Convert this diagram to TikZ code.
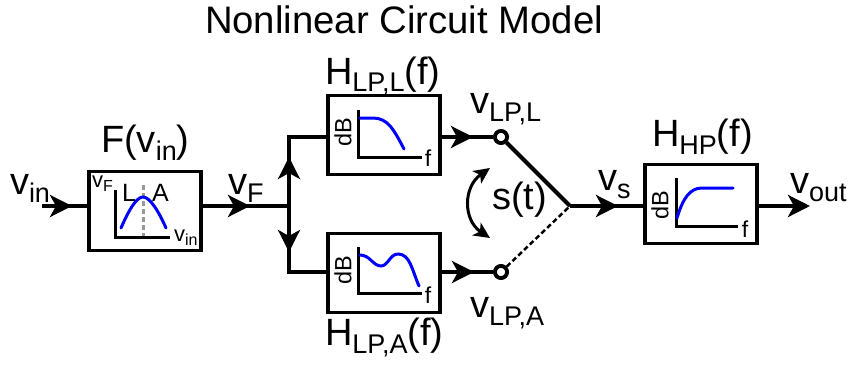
\documentclass[tikz,border=0pt]{standalone}
\usepackage{fontspec}
\setmainfont{Liberation Sans}
\usetikzlibrary{arrows.meta}
\newcommand{\bigsub}[2]{{\fontsize{38}{38}\selectfont #1\raisebox{-8pt}{\fontsize{27}{27}\selectfont #2}}}
\newcommand{\bigsubtail}[3]{{\fontsize{38}{38}\selectfont #1\raisebox{-8pt}{\fontsize{27}{27}\selectfont #2}#3}}
\newcommand{\smallsub}[2]{{\fontsize{22}{22}\selectfont #1\raisebox{-4pt}{\fontsize{16}{16}\selectfont #2}}}
\tikzset{
  x=1pt,y=-1pt,
  blockbox/.style={draw=black,line width=3.3pt,minimum width=112pt,minimum height=79pt,inner sep=0pt,line join=miter},
  wire/.style={draw=black,line width=4pt},
  headed/.style={wire,-{Stealth[length=22pt,width=22pt,inset=6pt]}},
  txt/.style={anchor=base west,inner sep=0pt,outer sep=0pt,text=black},
  axisline/.style={draw=black,line width=3pt},
  resp/.style={draw=blue,line width=3pt,line cap=round},
  terminal/.style={circle,draw=black,line width=3.7pt,fill=white,minimum size=12pt,inner sep=0pt},
  db/.style={rotate=90,inner sep=0pt,font=\fontsize{23.5}{23.5}\selectfont},
  ftxt/.style={inner sep=0pt,font=\fontsize{23}{23}\selectfont},
}
\begin{document}
\begin{tikzpicture}
\useasboundingbox (0,0) rectangle (848,369);
% blocks
\node[blockbox] (F) at (145,211) {};
\node[blockbox] (HL) at (384,135) {};
\node[blockbox] (HA) at (384,273) {};
\node[blockbox] (HP) at (701,204) {};
% connector points
\coordinate (in) at (42,206);
\coordinate (intip) at (72,206);
\coordinate (Ftip) at (250,206);
\coordinate (j) at (289,206);
\coordinate (uptip) at (289,157);
\coordinate (dntip) at (289,252);
\coordinate (sw) at (570,206);
\coordinate (stip) at (618,206);
\coordinate (outtip) at (810,206);
\coordinate (Ltip) at (473,137);
\coordinate (Atip) at (474,272);
\node[terminal] (tL) at (501,137) {};
\node[terminal] (tA) at (501,272) {};
% wires
\draw[wire] (in) -- (F.west |- in);
\draw[headed] (in) -- (intip);
\draw[wire] (F.east |- j) -- (j);
\draw[headed] (F.east |- j) -- (Ftip);
\draw[wire,line join=miter] (HL.west |- tL) -| (j) |- (HA.west |- tA);
\draw[headed] (j) -- (uptip);
\draw[headed] (j) -- (dntip);
\draw[wire] (HL.east |- tL) -- (tL);
\draw[headed] (HL.east |- tL) -- (Ltip);
\draw[wire] (HA.east |- tA) -- (tA);
\draw[headed] (HA.east |- tA) -- (Atip);
\draw[wire] (tL) -- (sw);
\draw[draw=black,line width=2.5pt,dash pattern=on 5pt off 3pt] (tA) -- (sw);
\draw[wire] (sw) -- (HP.west |- sw);
\draw[headed] (sw) -- (stip);
\draw[headed] (HP.east |- sw) -- (outtip);
\node[terminal] at (tL) {};
\node[terminal] at (tA) {};
% switching arc
\coordinate (arcA) at (490,168);
\coordinate (arcB) at (490,238);
\draw[draw=black,line width=3pt,{Stealth[length=16pt,width=15pt,inset=4pt]}-{Stealth[length=16pt,width=15pt,inset=4pt]}] (arcA) .. controls (463,187) and (463,220) .. (arcB);
% plot F
\draw[draw=gray!80,line width=3pt,dash pattern=on 5pt off 3pt] (143,185) -- (143,237);
\draw[axisline] (115,190) -- (115,237) -- (170,237);
\draw[resp] (121,228) .. controls (128,212) and (136,197) .. (143,197) .. controls (150,197) and (159,212) .. (166,228);
% plot LP,L
\draw[axisline] (358,110) -- (358,157) -- (422,157);
\draw[resp] (360,118) -- (373,118) .. controls (388,118) and (394,130) .. (404,149);
% plot LP,A
\draw[axisline] (358,247) -- (358,293) -- (422,293);
\draw[resp] (360,255) .. controls (370,255) and (373,266) .. (381,266) .. controls (388,266) and (390,254) .. (398,254) .. controls (410,254) and (412,270) .. (419,286);
% plot HP
\draw[axisline] (676,178) -- (676,226) -- (738,226);
\draw[resp] (677,218) .. controls (683,198) and (690,188) .. (702,188) -- (733,188);
% labels
\node[txt,font=\fontsize{38.3}{38.3}\selectfont] (title) at (205,34) {Nonlinear Circuit Model};
\node[txt] (lin) at (10,194) {\bigsub{v}{in}};
\node[txt] (lF) at (101,152) {\bigsubtail{F(v}{in}{)}};
\node[txt] (lvF) at (228,194) {\bigsub{v}{F}};
\node[txt] (lHL) at (325,84) {\bigsubtail{H}{LP,L}{(f)}};
\node[txt] (lHA) at (325,345) {\bigsubtail{H}{LP,A}{(f)}};
\node[txt] (lvL) at (470,113) {\bigsub{v}{LP,L}};
\node[txt] (lvA) at (470,317) {\bigsub{v}{LP,A}};
\node[txt,font=\fontsize{38}{38}\selectfont] (ls) at (492,209) {s(t)};
\node[txt] (lvs) at (598,190) {\bigsub{v}{s}};
\node[txt] (lHP) at (652,146) {\bigsubtail{H}{HP}{(f)}};
\node[txt] (lout) at (790,193) {\bigsub{v}{out}};
\node[txt] (pvF) at (92,187) {\smallsub{v}{F}};
\node[txt] (pvi) at (174,241) {\smallsub{v}{in}};
\node[txt,font=\fontsize{25}{25}\selectfont] (pL) at (122,201) {L};
\node[txt,font=\fontsize{25}{25}\selectfont] (pA) at (152,201) {A};
\node[db] (d1) at (343,132) {dB};
\node[db] (d2) at (343,270) {dB};
\node[db] (d3) at (660,205) {dB};
\node[ftxt] (f1) at (428,158) {f};
\node[ftxt] (f2) at (428,295) {f};
\node[ftxt] (f3) at (745,229) {f};
\end{tikzpicture}
\end{document}
